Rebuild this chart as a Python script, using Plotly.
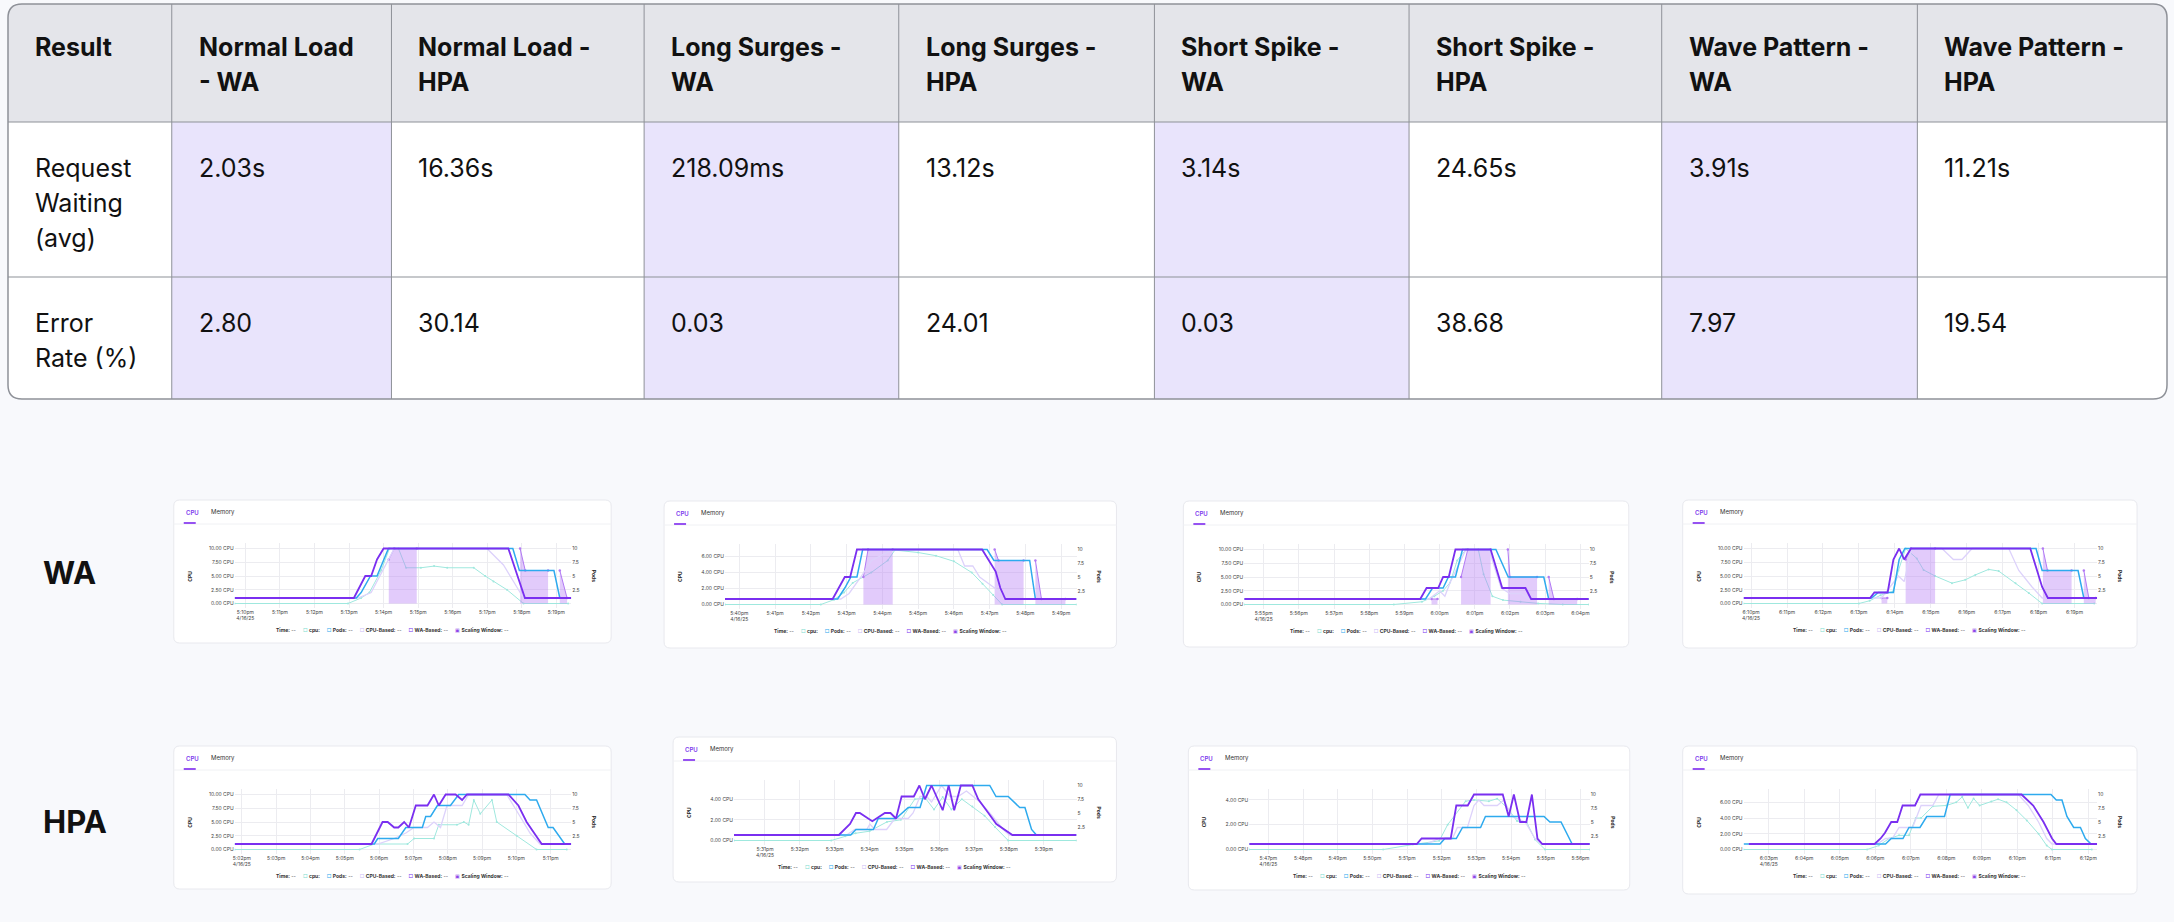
import plotly.graph_objects as go

W, H = 2174, 922

# ---------------- table data ----------------
header = ["Result", "Normal Load<br>- WA", "Normal Load -<br>HPA", "Long Surges -<br>WA",
          "Long Surges -<br>HPA", "Short Spike -<br>WA", "Short Spike -<br>HPA",
          "Wave Pattern -<br>WA", "Wave Pattern -<br>HPA"]
row_labels = ["Request<br>Waiting<br>(avg)", "Error<br>Rate (%)"]
waiting = ["2.03s", "16.36s", "218.09ms", "13.12s", "3.14s", "24.65s", "3.91s", "11.21s"]
error_rate = ["2.80", "30.14", "0.03", "24.01", "0.03", "38.68", "7.97", "19.54"]

# ---------------- chart data ----------------
# time = minutes after the first tick label; pods-scale series in pods, cpu in cores
run_date = "4/16/25"

nl_wa_ticks = ["5:10pm", "5:11pm", "5:12pm", "5:13pm", "5:14pm", "5:15pm", "5:16pm", "5:17pm", "5:18pm", "5:19pm"]
nl_wa_cpu_ticks = [0, 2.5, 5, 7.5, 10]
nl_wa_cpu_top = 10
nl_wa_cpu = [(-0.31, 0), (2.97, 0), (3.35, 1), (3.59, 2), (3.93, 6), (4.17, 10), (4.43, 10), (4.65, 6.5), (5.08, 6.5),
             (5.46, 6.8), (5.84, 6.5), (6.61, 6.5), (6.94, 5), (7.18, 4), (7.57, 2.5), (8.05, 0), (9.34, 0)]
nl_wa_pods = [(-0.31, 1), (3.21, 1), (3.35, 2), (3.62, 5), (3.81, 5), (4.14, 10), (7.74, 10), (7.93, 6), (8.93, 6),
              (9.1, 1), (9.43, 1)]
nl_wa_cpub = [(-0.31, 1), (3.26, 1), (3.64, 2), (4.31, 10), (6.99, 10), (7.47, 7), (7.76, 4), (8.05, 1), (9.43, 1)]
nl_wa_wab = [(-0.31, 1), (3.14, 1), (3.47, 5), (3.64, 5), (3.81, 8), (4.0, 10), (7.61, 10), (8.09, 1), (9.43, 1)]
nl_wa_win = [[(4.15, 8), (4.31, 10), (4.96, 10)], [(7.95, 10), (8.1, 6), (8.76, 6)], [(9.1, 6), (9.31, 1)]]

ls_wa_ticks = ["5:40pm", "5:41pm", "5:42pm", "5:43pm", "5:44pm", "5:45pm", "5:46pm", "5:47pm", "5:48pm", "5:49pm"]
ls_wa_cpu_ticks = [0, 2, 4, 6]
ls_wa_cpu_top = 6.875
ls_wa_cpu = [(-0.4, 0), (2.28, 0), (2.65, 0.6), (2.93, 1.5), (3.17, 2.7), (3.69, 4), (4.15, 5.5), (4.35, 6.8),
             (5.0, 6.5), (5.5, 6.1), (6.0, 5.4), (6.5, 4.0), (6.8, 2.6), (7.1, 1.2), (7.35, 0), (9.43, 0)]
ls_wa_pods = [(-0.4, 1), (2.75, 1), (2.95, 3), (3.12, 5), (3.29, 5), (3.45, 10), (6.93, 10), (7.12, 8), (8.12, 8),
              (8.28, 1), (9.43, 1)]
ls_wa_cpub = [(-0.4, 1), (2.84, 1), (3.07, 2), (3.4, 5), (3.7, 8), (4.3, 10), (6.11, 10), (6.3, 7), (6.53, 7),
              (6.72, 5), (7.14, 3), (7.51, 1), (9.43, 1)]
ls_wa_wab = [(-0.4, 1), (2.61, 1), (2.95, 5), (3.1, 5), (3.29, 10), (6.79, 10), (7.17, 6), (7.3, 3), (7.44, 1),
             (9.43, 1)]
ls_wa_win = [[(3.47, 5), (3.6, 10), (4.29, 10)], [(7.14, 10), (7.25, 8), (7.95, 8)], [(8.28, 8), (8.45, 1), (9.12, 1)]]

ss_wa_ticks = ["5:55pm", "5:56pm", "5:57pm", "5:58pm", "5:59pm", "6:00pm", "6:01pm", "6:02pm", "6:03pm", "6:04pm"]
ss_wa_cpu_ticks = [0, 2.5, 5, 7.5, 10]
ss_wa_cpu_top = 10
ss_wa_cpu = [(-0.55, 0), (3.7, 0), (4.5, 0.5), (4.7, 1), (4.85, 1.5), (5.1, 2.5), (5.3, 4), (5.5, 8), (5.75, 10),
             (6.1, 10), (6.25, 5.5), (6.5, 1.5), (6.8, 0.8), (7.3, 0.5), (7.8, 0.2), (8.5, 0), (9.24, 0)]
ss_wa_pods = [(-0.55, 1), (4.6, 1), (4.8, 3), (5.1, 3), (5.25, 5), (5.45, 5), (5.65, 10), (6.6, 10), (6.95, 5),
              (7.96, 5), (8.1, 1), (9.24, 1)]
ss_wa_cpub = [(-0.55, 1), (4.7, 1), (5.0, 2.5), (5.15, 1.5), (5.3, 4), (5.75, 10), (6.4, 10), (6.75, 3), (7.0, 2),
              (7.3, 2), (7.55, 1), (9.24, 1)]
ss_wa_wab = [(-0.55, 1), (4.45, 1), (4.63, 3), (4.96, 3), (5.1, 5), (5.26, 5), (5.45, 10), (6.45, 10), (6.78, 3),
             (7.44, 3), (7.6, 1), (9.24, 1)]
ss_wa_win = [[(4.77, 1), (4.94, 1)], [(5.61, 5), (5.8, 10), (6.45, 10)], [(6.94, 10), (7.0, 5), (7.77, 5)],
             [(8.1, 5), (8.25, 1), (8.91, 1)]]

wp_wa_ticks = ["6:10pm", "6:11pm", "6:12pm", "6:13pm", "6:14pm", "6:15pm", "6:16pm", "6:17pm", "6:18pm", "6:19pm"]
wp_wa_cpu_ticks = [0, 2.5, 5, 7.5, 10]
wp_wa_cpu_top = 10
wp_wa_cpu = [(-0.21, 0), (3.0, 0), (3.3, 0.5), (3.6, 1.5), (3.95, 2.2), (4.1, 6), (4.3, 10), (4.61, 8.2), (4.8, 6.1),
             (5.12, 5), (5.59, 3.7), (5.96, 4.3), (6.24, 5.2), (6.61, 6.2), (6.89, 5.9), (7.36, 3.7), (7.73, 1.9),
             (8.1, 0), (9.55, 0)]
wp_wa_pods = [(-0.21, 1), (3.35, 1), (3.54, 2), (3.96, 2), (4.12, 8), (4.28, 10), (7.93, 10), (8.1, 6), (9.1, 6),
              (9.26, 1), (9.63, 1)]
wp_wa_cpub = [(-0.21, 1), (3.63, 1), (4.1, 5), (4.26, 4), (4.47, 10), (5.31, 10), (5.63, 8), (5.87, 8), (6.15, 10),
              (7.17, 10), (7.45, 6), (7.82, 3), (8.1, 1), (9.63, 1)]
wp_wa_wab = [(-0.21, 1), (3.31, 1), (3.43, 2), (3.8, 2), (3.96, 8), (4.12, 10), (4.26, 8), (4.45, 10), (7.77, 10),
             (8.1, 3), (8.26, 1), (9.63, 1)]
wp_wa_win = [[(3.63, 1), (3.79, 1)], [(4.3, 8), (4.45, 10), (5.12, 10)], [(8.12, 10), (8.25, 6), (8.92, 6)],
             [(9.26, 6), (9.4, 1), (9.59, 1)]]

nl_hpa_ticks = ["5:02pm", "5:03pm", "5:04pm", "5:05pm", "5:06pm", "5:07pm", "5:08pm", "5:09pm", "5:10pm", "5:11pm"]
nl_hpa_cpu_ticks = [0, 2.5, 5, 7.5, 10]
nl_hpa_cpu_top = 10
nl_hpa_cpu = [(-0.21, 0), (3.43, 0), (3.86, 1), (4.83, 1), (5.02, 2), (5.6, 2), (5.74, 4.5), (6.27, 4.5), (6.47, 5),
              (6.61, 4.5), (6.76, 9), (6.95, 6.5), (7.29, 9), (7.43, 5), (8.01, 2.5), (8.59, 0), (9.47, 0)]
nl_hpa_pods = [(-0.21, 1), (3.86, 1), (3.96, 2), (4.56, 2), (4.78, 4), (5.26, 4), (5.36, 6), (5.5, 6), (5.7, 8),
               (6.08, 8), (6.32, 10), (8.25, 10), (8.4, 9), (8.59, 9), (8.93, 4), (9.07, 4), (9.41, 1), (9.6, 1)]
nl_hpa_cpub = [(-0.21, 1), (3.96, 1), (4.44, 2), (4.78, 3), (5.02, 4), (5.41, 4), (5.6, 5), (5.79, 4), (5.98, 8),
               (6.42, 8), (6.61, 10), (7.72, 10), (8.11, 6), (8.4, 3), (8.69, 1), (9.6, 1)]
nl_hpa_wab = [(-0.21, 1), (3.78, 1), (4.1, 5), (4.25, 5), (4.44, 4), (4.56, 4), (4.73, 5), (4.87, 4), (5.07, 8),
              (5.41, 8), (5.6, 10), (5.74, 8), (5.94, 10), (6.23, 10), (6.42, 9), (6.56, 10), (7.77, 10), (8.06, 8),
              (8.3, 5), (8.74, 1), (9.6, 1)]
nl_hpa_win = []

ls_hpa_ticks = ["5:31pm", "5:32pm", "5:33pm", "5:34pm", "5:35pm", "5:36pm", "5:37pm", "5:38pm", "5:39pm"]
ls_hpa_cpu_ticks = [0, 2, 4]
ls_hpa_cpu_top = 5.32
ls_hpa_cpu = [(-0.89, 0), (1.9, 0), (2.3, 0.4), (2.6, 0.7), (3.0, 0.9), (3.5, 1.8), (3.9, 2.0), (4.3, 4.0), (4.6, 4.1),
              (4.85, 3.0), (5.1, 4.2), (5.35, 3.0), (5.65, 4.0), (5.95, 3.3), (6.3, 2.4), (6.6, 1.3), (6.98, 0),
              (8.94, 0)]
ls_hpa_pods = [(-0.89, 1), (2.46, 1), (2.61, 2), (3.11, 2), (3.25, 4), (3.76, 4), (4.11, 6), (4.45, 6), (4.64, 10),
               (6.45, 10), (6.63, 8), (6.98, 8), (7.31, 6), (7.46, 6), (7.65, 2), (7.79, 1), (8.94, 1)]
ls_hpa_cpub = [(-0.89, 1), (2.34, 1), (2.58, 2), (2.92, 2), (3.01, 3), (3.15, 2), (3.49, 2), (3.73, 4), (4.11, 4),
               (4.25, 5), (4.45, 8), (4.64, 8), (4.78, 7), (5.07, 10), (5.31, 8), (5.54, 8), (5.78, 9), (6.17, 7),
               (6.45, 5), (6.84, 2), (7.01, 1), (8.94, 1)]
ls_hpa_wab = [(-0.89, 1), (2.12, 1), (2.44, 3), (2.61, 5), (2.72, 5), (3.08, 3.5), (3.44, 5), (3.6, 5), (3.76, 4),
              (3.92, 8), (4.27, 8), (4.43, 10), (4.59, 7.5), (4.78, 10), (5.1, 5.5), (5.27, 10), (5.43, 5.5),
              (5.62, 10), (5.95, 10), (6.12, 7.5), (6.41, 5), (6.64, 3), (7.1, 1), (8.94, 1)]
ls_hpa_win = []

ss_hpa_ticks = ["5:47pm", "5:48pm", "5:49pm", "5:50pm", "5:51pm", "5:52pm", "5:53pm", "5:54pm", "5:55pm", "5:56pm"]
ss_hpa_cpu_ticks = [0, 2, 4]
ss_hpa_cpu_top = 4.44
ss_hpa_cpu = [(-0.55, 0), (3.31, 0), (4.17, 0.4), (4.93, 0.7), (5.17, 2), (5.69, 3.9), (5.93, 4.0), (6.36, 3.9),
              (6.6, 4.1), (6.88, 3.4), (7.17, 2.3), (7.45, 2.2), (7.69, 0.8), (7.98, 0), (9.27, 0)]
ss_hpa_pods = [(-0.55, 1), (4.95, 1), (5.09, 2), (5.42, 2), (5.6, 4), (6.12, 4), (6.26, 6), (7.95, 6), (8.12, 5),
               (8.44, 5), (8.76, 1), (9.27, 1)]
ss_hpa_cpub = [(-0.55, 1), (4.55, 1), (4.93, 2), (5.31, 2), (5.45, 4), (5.74, 4), (5.93, 8), (6.07, 9), (6.22, 8),
               (6.6, 8), (6.79, 9), (7.03, 6), (7.41, 5), (7.69, 2), (7.88, 1), (9.27, 1)]
ss_hpa_wab = [(-0.55, 1), (4.28, 1), (4.42, 2), (5.26, 2), (5.42, 8), (5.75, 8), (5.93, 10), (6.76, 10), (6.93, 6),
              (7.08, 10), (7.26, 5), (7.44, 5), (7.6, 10), (7.76, 2), (7.9, 1), (9.27, 1)]
ss_hpa_win = []

wp_hpa_ticks = ["6:03pm", "6:04pm", "6:05pm", "6:06pm", "6:07pm", "6:08pm", "6:09pm", "6:10pm", "6:11pm", "6:12pm"]
wp_hpa_cpu_ticks = [0, 2, 4, 6]
wp_hpa_cpu_top = 7.0
wp_hpa_cpu = [(-0.71, 0), (2.77, 0), (3.1, 0.5), (3.39, 1.4), (3.67, 1.8), (3.95, 1.8), (4.14, 4), (4.29, 4),
              (4.62, 5.5), (5.0, 5.6), (5.28, 6), (5.45, 6.7), (5.61, 5.3), (5.77, 6.5), (5.94, 5.6), (6.27, 6.1),
              (6.46, 6.4), (6.7, 6), (6.98, 5), (7.27, 3.7), (7.6, 2), (7.83, 0.5), (7.98, 0), (9.1, 0)]
wp_hpa_pods = [(-0.71, 1), (3.29, 1), (3.45, 2), (3.78, 2), (3.95, 4), (4.26, 4), (4.45, 6), (4.95, 6), (5.11, 10),
               (7.95, 10), (8.1, 9), (8.26, 9), (8.4, 6), (8.59, 4), (8.78, 4), (8.92, 2), (9.08, 1), (9.25, 1)]
wp_hpa_cpub = [(-0.56, 1), (3.05, 1), (3.29, 2), (3.48, 2), (3.67, 4), (4.05, 4), (4.29, 8), (4.62, 8), (4.79, 10),
               (7.03, 10), (7.31, 8), (7.6, 5), (7.83, 2), (7.98, 1), (9.25, 1)]
wp_hpa_wab = [(-0.56, 1), (2.98, 1), (3.15, 2), (3.27, 3), (3.45, 5), (3.62, 5), (3.77, 8), (4.12, 8), (4.27, 10),
              (7.12, 10), (7.45, 8), (7.74, 5), (7.98, 2), (8.1, 1), (9.25, 1)]
wp_hpa_win = []

pods_ticks = [2.5, 5, 7.5, 10]

charts = [
    (nl_wa_ticks, nl_wa_cpu_ticks, nl_wa_cpu_top, nl_wa_cpu, nl_wa_pods, nl_wa_cpub, nl_wa_wab, nl_wa_win),
    (ls_wa_ticks, ls_wa_cpu_ticks, ls_wa_cpu_top, ls_wa_cpu, ls_wa_pods, ls_wa_cpub, ls_wa_wab, ls_wa_win),
    (ss_wa_ticks, ss_wa_cpu_ticks, ss_wa_cpu_top, ss_wa_cpu, ss_wa_pods, ss_wa_cpub, ss_wa_wab, ss_wa_win),
    (wp_wa_ticks, wp_wa_cpu_ticks, wp_wa_cpu_top, wp_wa_cpu, wp_wa_pods, wp_wa_cpub, wp_wa_wab, wp_wa_win),
    (nl_hpa_ticks, nl_hpa_cpu_ticks, nl_hpa_cpu_top, nl_hpa_cpu, nl_hpa_pods, nl_hpa_cpub, nl_hpa_wab, nl_hpa_win),
    (ls_hpa_ticks, ls_hpa_cpu_ticks, ls_hpa_cpu_top, ls_hpa_cpu, ls_hpa_pods, ls_hpa_cpub, ls_hpa_wab, ls_hpa_win),
    (ss_hpa_ticks, ss_hpa_cpu_ticks, ss_hpa_cpu_top, ss_hpa_cpu, ss_hpa_pods, ss_hpa_cpub, ss_hpa_wab, ss_hpa_win),
    (wp_hpa_ticks, wp_hpa_cpu_ticks, wp_hpa_cpu_top, wp_hpa_cpu, wp_hpa_pods, wp_hpa_cpub, wp_hpa_wab, wp_hpa_win),
]

# card boxes in page pixels (left, top, right, bottom)
cards = [(172, 500, 610, 643), (663, 501, 1116, 648), (1183, 501, 1629, 647), (1683, 500, 2138, 648),
         (172, 746, 610, 889), (672, 737, 1116, 882), (1188, 746, 1630, 890), (1683, 746, 2138, 894)]

FONT = "Inter, Roboto, sans-serif"
PAGE_BG = "#f8f9fc"
C_CPU = "#9fe8de"
C_PODS = "#2eaaee"
C_CPUB = "#ddd2fb"
C_WAB = "#7a2ff0"
C_WIN = "#b27af4"


def P(x, y):
    return f"{x / W:.5f},{1 - y / H:.5f}"


def rpath(x0, y0, x1, y1, rt, rb):
    return (f"M{P(x0 + rt, y0)} L{P(x1 - rt, y0)} Q{P(x1, y0)} {P(x1, y0 + rt)} "
            f"L{P(x1, y1 - rb)} Q{P(x1, y1)} {P(x1 - rb, y1)} L{P(x0 + rb, y1)} "
            f"Q{P(x0, y1)} {P(x0, y1 - rb)} L{P(x0, y0 + rt)} Q{P(x0, y0)} {P(x0 + rt, y0)} Z")


shapes = []
annotations = []


def text(x, y, s, size, color="#111", xanchor="left", angle=0, weight=None):
    annotations.append(dict(x=x / W, y=1 - y / H, xref="paper", yref="paper", text=s, showarrow=False,
                            xanchor=xanchor, yanchor="middle", textangle=angle,
                            font=dict(family=FONT, size=size, color=color, weight=weight)))


def hline(x0, x1, y, color, width):
    shapes.append(dict(type="line", xref="paper", yref="paper", x0=x0 / W, x1=x1 / W, y0=1 - y / H, y1=1 - y / H,
                       line=dict(color=color, width=width), layer="below"))


# ---------------- table ----------------
cols = [6, 170, 390, 643, 898, 1154, 1409, 1662, 1918, 2168]
rows = [4, 122, 277, 399]
BORDER = "#8e9198"

shapes.append(dict(type="path", xref="paper", yref="paper", path=rpath(cols[0], rows[0], cols[-1], rows[-1], 14, 14),
                   fillcolor="white", line=dict(width=0), layer="below"))
shapes.append(dict(type="path", xref="paper", yref="paper", path=rpath(cols[0], rows[0], cols[-1], rows[1], 14, 0),
                   fillcolor="#e4e5ea", line=dict(width=0), layer="below"))
for i, h in enumerate(header):
    if h.endswith("WA"):
        shapes.append(dict(type="rect", xref="paper", yref="paper", x0=cols[i] / W, x1=cols[i + 1] / W,
                           y0=1 - rows[-1] / H, y1=1 - rows[1] / H, fillcolor="#e9e4fc", line=dict(width=0),
                           layer="below"))
for c in cols[1:-1]:
    shapes.append(dict(type="line", xref="paper", yref="paper", x0=c / W, x1=c / W, y0=1 - rows[0] / H,
                       y1=1 - rows[-1] / H, line=dict(color=BORDER, width=1), layer="below"))
for r in rows[1:-1]:
    hline(cols[0], cols[-1], r, BORDER, 1.2)
shapes.append(dict(type="path", xref="paper", yref="paper", path=rpath(cols[0], rows[0], cols[-1], rows[-1], 14, 14),
                   line=dict(color=BORDER, width=1.5), layer="below"))

LINE_GAP = 35
for i, h in enumerate(header):
    for k, part in enumerate(h.split("<br>")):
        text(cols[i] + 25, 47 + k * LINE_GAP, part, 25, weight=700)

body_rows = [[row_labels[0]] + waiting, [row_labels[1]] + error_rate]
row_first_line = [168, 323]
for r, vals in enumerate(body_rows):
    for i, v in enumerate(vals):
        for k, part in enumerate(v.split("<br>")):
            text(cols[i] + 25, row_first_line[r] + k * LINE_GAP, part, 25)

text(39, 572, "WA", 31, weight=700)
text(39, 821, "HPA", 31, weight=700)


# ---------------- mini charts ----------------
def box(color, filled=False):
    ch = "\u25a3" if filled else "\u25a1"
    return f"<span style='color:{color}'>{ch}</span>"


sp = "\u00a0" * 5
legend_txt = ("<b>Time:</b> --" + sp + box("#7fdccf") + " <b>cpu:</b>" + sp + box(C_PODS) + " <b>Pods:</b> --" + sp
              + box("#cbbcf6") + " <b>CPU-Based:</b> --" + sp + box(C_WAB) + " <b>WA-Based:</b> --" + sp
              + box("#8b45e8", True) + " <b>Scaling Window:</b> --")

fig = go.Figure()
layout_axes = {}
P_LO, P_HI = -0.8, 11.0

for n, (chart, card) in enumerate(zip(charts, cards), start=1):
    ticks, cpu_ticks, cpu_top, cpu, pods, cpub, wab, wins = chart
    L, T, R, B = card
    shapes.append(dict(type="path", xref="paper", yref="paper", path=rpath(L, T, R, B, 6, 6),
                       fillcolor="white", line=dict(color="#e8e9ee", width=1), layer="below"))
    hline(L, R, T + 24, "#f0f1f4", 1)
    hline(L + 10, L + 22, T + 23, "#8b3ff0", 1.8)
    text(L + 10, T + 12, "CPU", 6, color="#7c3aed", weight=600)
    text(L + 35, T + 12, "Memory", 6, color="#333")
    text(L + 16, T + 76, "<b>CPU</b>", 5, color="#222", xanchor="center", angle=-90)
    text(R - 17, T + 76, "<b>Pods</b>", 5, color="#222", xanchor="center", angle=90)
    text((L + R) / 2, T + 130, legend_txt, 5, color="#333", xanchor="center")

    xname = "x" if n == 1 else f"x{n}"
    yc, yp = 2 * n - 1, 2 * n
    ycname = "y" if yc == 1 else f"y{yc}"
    ypname = f"y{yp}"
    ten_px, zero_px = T + 48.5, T + 103.5
    ppp = (zero_px - ten_px) / 10
    dom_y = [1 - (zero_px - P_LO * ppp) / H, 1 - (ten_px - (P_HI - 10) * ppp) / H]
    all_t = [p[0] for s in (cpu, pods, cpub, wab) for p in s]
    s = cpu_top / 10

    layout_axes["xaxis" if n == 1 else f"xaxis{n}"] = dict(
        domain=[(L + 61) / W, (R - 40) / W], range=[min(all_t), max(all_t)], anchor=ycname,
        tickvals=list(range(len(ticks))),
        ticktext=[f"{t}<br>{run_date}" if k == 0 else t for k, t in enumerate(ticks)],
        showgrid=True, gridcolor="#ececf0", gridwidth=0.7, zeroline=False, showline=False, ticks="",
        tickfont=dict(family=FONT, size=5, color="#444"), fixedrange=True)
    layout_axes["yaxis" if yc == 1 else f"yaxis{yc}"] = dict(
        domain=dom_y, range=[P_LO * s, P_HI * s], anchor=xname, tickvals=cpu_ticks,
        ticktext=[f"{v:.2f} CPU" for v in cpu_ticks], showgrid=True, gridcolor="#ececf0", gridwidth=0.7,
        zeroline=False, showline=False, ticks="", tickfont=dict(family=FONT, size=5, color="#444"), fixedrange=True)
    layout_axes[f"yaxis{yp}"] = dict(
        overlaying=ycname, side="right", range=[P_LO, P_HI], anchor=xname, tickvals=pods_ticks,
        ticktext=[f"{v:g}" for v in pods_ticks], showgrid=False, zeroline=False, showline=False, ticks="",
        tickfont=dict(family=FONT, size=5, color="#444"), fixedrange=True)

    for w in wins:
        fig.add_trace(go.Scatter(x=[p[0] for p in w], y=[p[1] for p in w], xaxis=xname, yaxis=ypname,
                                 mode="lines+markers", fill="tozeroy", fillcolor="rgba(185,130,245,0.42)",
                                 line=dict(color=C_WIN, width=1), marker=dict(size=2.5, color=C_WIN)))
    fig.add_trace(go.Scatter(x=[p[0] for p in cpu], y=[p[1] for p in cpu], xaxis=xname, yaxis=ycname,
                             mode="lines+markers", line=dict(color=C_CPU, width=1),
                             marker=dict(size=2, color=C_CPU)))
    fig.add_trace(go.Scatter(x=[p[0] for p in cpub], y=[p[1] for p in cpub], xaxis=xname, yaxis=ypname,
                             mode="lines", line=dict(color=C_CPUB, width=1.3)))
    fig.add_trace(go.Scatter(x=[p[0] for p in pods], y=[p[1] for p in pods], xaxis=xname, yaxis=ypname,
                             mode="lines", line=dict(color=C_PODS, width=1.5)))
    fig.add_trace(go.Scatter(x=[p[0] for p in wab], y=[p[1] for p in wab], xaxis=xname, yaxis=ypname,
                             mode="lines", line=dict(color=C_WAB, width=1.8)))

fig.update_layout(
    width=W, height=H, margin=dict(l=0, r=0, t=0, b=0),
    paper_bgcolor=PAGE_BG, plot_bgcolor="rgba(0,0,0,0)",
    showlegend=False, shapes=shapes, annotations=annotations,
    font=dict(family=FONT), hovermode=False,
    **layout_axes,
)

# the page's default body margin would push the figure off by 8px
fig.write_html("out.html", config={"displayModeBar": False},
               post_script=f"document.body.style.margin='0';document.body.style.background='{PAGE_BG}';"
                           "document.body.style.overflow='hidden';")
